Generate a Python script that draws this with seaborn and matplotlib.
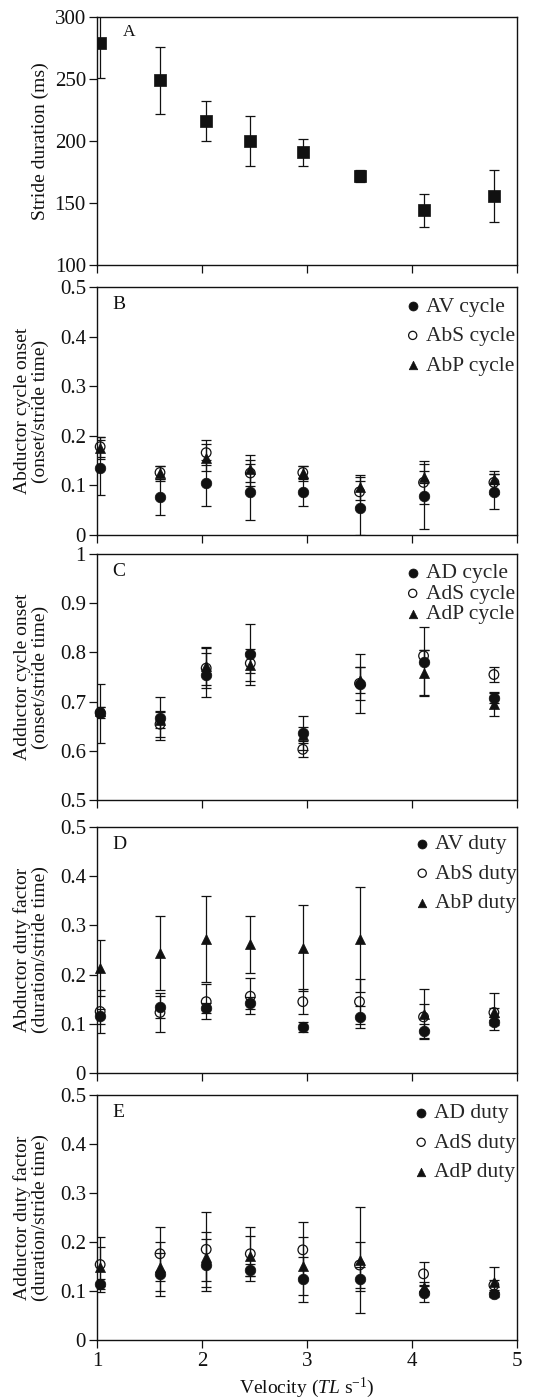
import matplotlib
matplotlib.use("Agg")
import matplotlib.pyplot as plt
import seaborn as sns
from matplotlib.ticker import FuncFormatter, MultipleLocator

# Swimming speed (body lengths per second)
velocity = [1.03, 1.60, 2.04, 2.46, 2.96, 3.50, 4.11, 4.78]

# A: stride duration (ms), mean and s.e.m.
stride_ms = [279, 249, 216, 200, 191, 172, 144, 156]
stride_err = [28, 27, 16, 20, 11, 5, 13, 21]

# B: abductor cycle onset
av_cycle = [0.136, 0.076, 0.105, 0.087, 0.087, 0.054, 0.078, 0.087]
av_cycle_err = [0.055, 0.036, 0.046, 0.057, 0.028, 0.054, 0.066, 0.035]
abs_cycle = [0.178, 0.126, 0.166, 0.125, 0.126, 0.087, 0.106, 0.106]
abs_cycle_err = [0.020, 0.014, 0.025, 0.026, 0.014, 0.030, 0.044, 0.023]
abp_cycle = [0.175, 0.124, 0.156, 0.134, 0.124, 0.096, 0.117, 0.113]
abp_cycle_err = [0.022, 0.016, 0.027, 0.027, 0.016, 0.025, 0.012, 0.010]

# C: adductor cycle onset
ad_cycle = [0.676, 0.666, 0.754, 0.796, 0.636, 0.736, 0.781, 0.707]
ad_cycle_err = [0.060, 0.044, 0.044, 0.062, 0.035, 0.060, 0.070, 0.010]
ads_cycle = [0.678, 0.654, 0.768, 0.778, 0.603, 0.737, 0.793, 0.755]
ads_cycle_err = [0.012, 0.025, 0.040, 0.020, 0.016, 0.033, 0.012, 0.015]
adp_cycle = [0.680, 0.663, 0.772, 0.774, 0.632, 0.744, 0.759, 0.695]
adp_cycle_err = [0.010, 0.017, 0.038, 0.033, 0.017, 0.027, 0.045, 0.025]

# D: abductor duty factor
av_duty = [0.115, 0.134, 0.132, 0.143, 0.093, 0.114, 0.085, 0.103]
av_duty_err = [0.015, 0.022, 0.010, 0.012, 0.010, 0.023, 0.014, 0.005]
abs_duty = [0.125, 0.123, 0.145, 0.156, 0.145, 0.145, 0.114, 0.123]
abs_duty_err = [0.044, 0.039, 0.036, 0.037, 0.025, 0.046, 0.027, 0.010]
abp_duty = [0.214, 0.244, 0.272, 0.262, 0.254, 0.272, 0.120, 0.125]
abp_duty_err = [0.057, 0.075, 0.088, 0.058, 0.088, 0.107, 0.050, 0.037]

# E: adductor duty factor
ad_duty = [0.114, 0.134, 0.153, 0.143, 0.124, 0.124, 0.095, 0.093]
ad_duty_err = [0.010, 0.044, 0.053, 0.013, 0.046, 0.024, 0.017, 0.005]
ads_duty = [0.154, 0.176, 0.185, 0.176, 0.184, 0.153, 0.135, 0.112]
ads_duty_err = [0.057, 0.055, 0.077, 0.055, 0.057, 0.047, 0.025, 0.010]
adp_duty = [0.150, 0.150, 0.170, 0.171, 0.151, 0.163, 0.109, 0.119]
adp_duty_err = [0.040, 0.050, 0.050, 0.041, 0.060, 0.108, 0.010, 0.030]

sns.set_style("ticks")
plt.rcParams["font.family"] = ["Liberation Serif", "DejaVu Serif"]
plt.rcParams["mathtext.fontset"] = "custom"
plt.rcParams["mathtext.rm"] = "Liberation Serif"
plt.rcParams["mathtext.it"] = "Liberation Serif:italic"
plt.rcParams["axes.edgecolor"] = "#111111"

INK = "#111111"
FS_LABEL = 14
FS_TICK = 15
FS_LEGEND = 15.5

FILLED_CIRCLE = dict(marker="o", s=58, color=INK, edgecolor=INK, linewidth=0.5)
OPEN_CIRCLE = dict(marker="o", s=48, facecolor="none", edgecolor=INK, linewidth=0.9)
TRIANGLE = dict(marker="^", s=52, color=INK, edgecolor=INK, linewidth=0.5)

fig = plt.figure(figsize=(5.55, 14), dpi=100)
W, H = 555.0, 1400.0
LEFT, RIGHT = 97, 517
panel_px = [(17, 265), (287, 535), (554, 800), (827, 1073), (1095, 1340)]
axes = [fig.add_axes([LEFT / W, 1 - bot / H, (RIGHT - LEFT) / W, (bot - top) / H])
        for top, bot in panel_px]


def fmt_frac(v, _pos):
    if abs(v) < 1e-9:
        return "0"
    if abs(v - 1) < 1e-9:
        return "1"
    return f"{v:.1f}"


def style_axis(ax, letter, letter_size=14, letter_xy=(0.036, 0.93)):
    ax.set_xlim(1, 5)
    ax.xaxis.set_major_locator(MultipleLocator(1))
    for side in ("top", "right", "left", "bottom"):
        ax.spines[side].set_visible(True)
        ax.spines[side].set_linewidth(1.0)
        ax.spines[side].set_color(INK)
    ax.tick_params(direction="out", length=6, width=0.9, colors=INK,
                   labelsize=FS_TICK, pad=2)
    ax.tick_params(axis="x", labelbottom=False)
    ax.text(letter_xy[0], letter_xy[1], letter, transform=ax.transAxes,
            fontsize=letter_size, ha="left", va="center", color=INK)


def draw_series(ax, specs, legend_spacing, legend_pad):
    for mean, err, _style, _label in specs:
        ax.errorbar(velocity, mean, yerr=err, fmt="none", ecolor=INK,
                    elinewidth=0.9, capsize=3.8, capthick=0.9, zorder=2)
    for mean, _err, style, label in specs:
        sns.scatterplot(x=velocity, y=mean, ax=ax, label=label, zorder=3,
                        clip_on=False, **style)
    # legend rows: filled circle, open circle, triangle
    handles, labels = ax.get_legend_handles_labels()
    order = [2, 0, 1]
    ax.legend([handles[i] for i in order], [labels[i] for i in order],
              loc="upper right", bbox_to_anchor=(1.01, 0.988),
              frameon=False, fontsize=FS_LEGEND,
              handletextpad=0.1, handlelength=1.0, markerscale=0.85,
              labelspacing=legend_spacing, borderaxespad=0.0,
              borderpad=legend_pad)


# A: stride duration
axA = axes[0]
axA.errorbar(velocity, stride_ms, yerr=stride_err, fmt="none", ecolor=INK,
             elinewidth=0.9, capsize=3.8, capthick=0.9, zorder=2)
sns.scatterplot(x=velocity, y=stride_ms, ax=axA, marker="s", s=80,
                color=INK, edgecolor=INK, linewidth=0.5, zorder=3)
axA.set_ylim(100, 300)
axA.yaxis.set_major_locator(MultipleLocator(50))
axA.set_ylabel("Stride duration (ms)", fontsize=FS_LABEL, color=INK)
style_axis(axA, "A", letter_size=12.5, letter_xy=(0.062, 0.94))

# B: abductor cycle onset
axB = axes[1]
draw_series(axB, [
    (abs_cycle, abs_cycle_err, OPEN_CIRCLE, "AbS cycle"),
    (abp_cycle, abp_cycle_err, TRIANGLE, "AbP cycle"),
    (av_cycle, av_cycle_err, FILLED_CIRCLE, "AV cycle"),
], 0.44, 0.3)
axB.set_ylim(0, 0.5)
axB.yaxis.set_major_locator(MultipleLocator(0.1))
axB.yaxis.set_major_formatter(FuncFormatter(fmt_frac))
axB.set_ylabel("Abductor cycle onset\n(onset/stride time)", fontsize=FS_LABEL,
               color=INK, linespacing=1.0)
style_axis(axB, "B")

# C: adductor cycle onset
axC = axes[2]
draw_series(axC, [
    (ads_cycle, ads_cycle_err, OPEN_CIRCLE, "AdS cycle"),
    (adp_cycle, adp_cycle_err, TRIANGLE, "AdP cycle"),
    (ad_cycle, ad_cycle_err, FILLED_CIRCLE, "AD cycle"),
], 0.02, 0.3)
axC.set_ylim(0.5, 1.0)
axC.yaxis.set_major_locator(MultipleLocator(0.1))
axC.yaxis.set_major_formatter(FuncFormatter(fmt_frac))
axC.set_ylabel("Adductor cycle onset\n(onset/stride time)", fontsize=FS_LABEL,
               color=INK, linespacing=1.0)
style_axis(axC, "C")

# D: abductor duty factor
axD = axes[3]
draw_series(axD, [
    (abs_duty, abs_duty_err, OPEN_CIRCLE, "AbS duty"),
    (abp_duty, abp_duty_err, TRIANGLE, "AbP duty"),
    (av_duty, av_duty_err, FILLED_CIRCLE, "AV duty"),
], 0.44, 0.2)
axD.set_ylim(0, 0.5)
axD.yaxis.set_major_locator(MultipleLocator(0.1))
axD.yaxis.set_major_formatter(FuncFormatter(fmt_frac))
axD.set_ylabel("Abductor duty factor\n(duration/stride time)", fontsize=FS_LABEL,
               color=INK, linespacing=1.0)
style_axis(axD, "D")

# E: adductor duty factor
axE = axes[4]
draw_series(axE, [
    (ads_duty, ads_duty_err, OPEN_CIRCLE, "AdS duty"),
    (adp_duty, adp_duty_err, TRIANGLE, "AdP duty"),
    (ad_duty, ad_duty_err, FILLED_CIRCLE, "AD duty"),
], 0.44, 0.25)
axE.set_ylim(0, 0.5)
axE.yaxis.set_major_locator(MultipleLocator(0.1))
axE.yaxis.set_major_formatter(FuncFormatter(fmt_frac))
axE.set_ylabel("Adductor duty factor\n(duration/stride time)", fontsize=FS_LABEL,
               color=INK, linespacing=1.0)
style_axis(axE, "E")
axE.tick_params(axis="x", labelbottom=True, pad=3)
axE.set_xlabel(r"Velocity ($\mathit{TL}$ s$^{\mathrm{-1}}$)", fontsize=FS_LABEL,
               color=INK, labelpad=3)

for ax in axes:
    ax.yaxis.set_label_coords(-0.115, 0.5)

fig.savefig("out.png", dpi=100)
